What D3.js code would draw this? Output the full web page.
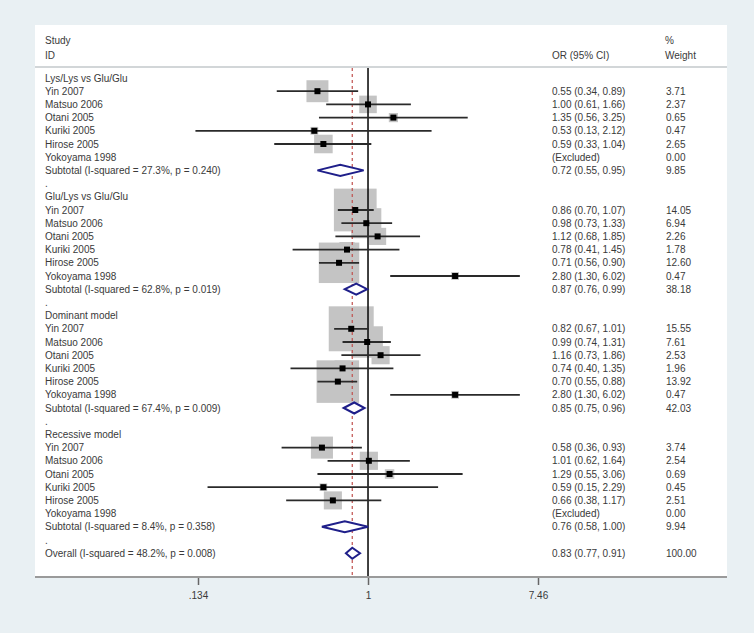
<!DOCTYPE html>
<html><head><meta charset="utf-8">
<script src="https://cdn.jsdelivr.net/npm/d3@7"></script>
<style>body{margin:0;background:#e9f0f3;}svg{display:block;}</style>
</head><body>
<svg id="c" width="754" height="633"></svg>
<script>
const groups = ["Lys/Lys vs Glu/Glu", "Glu/Lys vs Glu/Glu", "Dominant model", "Recessive model"];
const studies = ["Yin 2007", "Matsuo 2006", "Otani 2005", "Kuriki 2005", "Hirose 2005", "Yokoyama 1998"];
const orValues = [
  [0.55, 1.00, 1.35, 0.53, 0.59, null],
  [0.86, 0.98, 1.12, 0.78, 0.71, 2.80],
  [0.82, 0.99, 1.16, 0.74, 0.70, 2.80],
  [0.58, 1.01, 1.29, 0.59, 0.66, null]
];
const lowerCI = [
  [0.34, 0.61, 0.56, 0.13, 0.33, null],
  [0.70, 0.73, 0.68, 0.41, 0.56, 1.30],
  [0.67, 0.74, 0.73, 0.40, 0.55, 1.30],
  [0.36, 0.62, 0.55, 0.15, 0.38, null]
];
const upperCI = [
  [0.89, 1.66, 3.25, 2.12, 1.04, null],
  [1.07, 1.33, 1.85, 1.45, 0.90, 6.02],
  [1.01, 1.31, 1.86, 1.35, 0.88, 6.02],
  [0.93, 1.64, 3.06, 2.29, 1.17, null]
];
const weights = [
  [3.71, 2.37, 0.65, 0.47, 2.65, 0.00],
  [14.05, 6.94, 2.26, 1.78, 12.60, 0.47],
  [15.55, 7.61, 2.53, 1.96, 13.92, 0.47],
  [3.74, 2.54, 0.69, 0.45, 2.51, 0.00]
];
const subtotalLabels = [
  "Subtotal  (I-squared = 27.3%, p = 0.240)",
  "Subtotal  (I-squared = 62.8%, p = 0.019)",
  "Subtotal  (I-squared = 67.4%, p = 0.009)",
  "Subtotal  (I-squared = 8.4%, p = 0.358)"
];
const subOR = [0.72, 0.87, 0.85, 0.76];
const subLo = [0.55, 0.76, 0.75, 0.58];
const subHi = [0.95, 0.99, 0.96, 1.00];
const subW = [9.85, 38.18, 42.03, 9.94];
const overallLabel = "Overall  (I-squared = 48.2%, p = 0.008)";
const overallOR = 0.83, overallLo = 0.77, overallHi = 0.91, overallW = 100.00;
const tickValues = [0.134, 1, 7.46];
const tickLabels = [".134", "1", "7.46"];

const svg = d3.select("#c");
const font = "'Liberation Sans', Arial, sans-serif";
const textCol = "#3a3a3a";

// panel
const panel = {x0: 35, x1: 727, y0: 25, y1: 577};
svg.append("rect").attr("x", 0).attr("y", 0).attr("width", 754).attr("height", 633).attr("fill", "#e9f0f3");
svg.append("rect").attr("x", panel.x0).attr("y", panel.y0).attr("width", panel.x1 - panel.x0)
  .attr("height", panel.y1 - panel.y0).attr("fill", "#ffffff");

const x = d3.scaleLog().domain([0.134, 7.46]).range([198, 538]);
const rowY = d3.scaleLinear().domain([0, 36]).range([78, 553.2]);
const fmt = d3.format(".2f");
const boxK = 11.4;

// build rows
const rows = [];
groups.forEach((g, gi) => {
  const base = gi * 9;
  rows.push({type: "header", i: base, label: g});
  studies.forEach((s, si) => {
    rows.push({type: "study", i: base + 1 + si, label: s, or: orValues[gi][si], lo: lowerCI[gi][si],
      hi: upperCI[gi][si], w: weights[gi][si]});
  });
  rows.push({type: "sub", i: base + 7, label: subtotalLabels[gi], or: subOR[gi], lo: subLo[gi], hi: subHi[gi], w: subW[gi]});
  rows.push({type: "dot", i: base + 8, label: "."});
});
rows.push({type: "sub", i: 36, label: overallLabel, or: overallOR, lo: overallLo, hi: overallHi, w: overallW});

// header
const hdr = svg.append("g").attr("font-family", font).attr("font-size", 10).attr("fill", textCol);
hdr.append("text").attr("x", 45).attr("y", 44).text("Study");
hdr.append("text").attr("x", 45).attr("y", 59).text("ID");
hdr.append("text").attr("x", 552).attr("y", 59).text("OR (95% CI)");
hdr.append("text").attr("x", 665).attr("y", 44).text("%");
hdr.append("text").attr("x", 665).attr("y", 59).text("Weight");
svg.append("line").attr("x1", panel.x0).attr("x2", panel.x1).attr("y1", 67).attr("y2", 67)
  .attr("stroke", "#d2d6d8").attr("stroke-width", 2);

// boxes
const plot = svg.append("g");
const studyRows = rows.filter(r => r.type === "study" && r.or != null);
plot.selectAll("rect.box").data(studyRows).join("rect").attr("class", "box")
  .attr("x", d => x(d.or) - boxK * Math.sqrt(d.w) / 2)
  .attr("y", d => rowY(d.i) - boxK * Math.sqrt(d.w) / 2)
  .attr("width", d => boxK * Math.sqrt(d.w))
  .attr("height", d => boxK * Math.sqrt(d.w))
  .attr("fill", "#c4c4c4");

// null line
plot.append("line").attr("x1", x(1)).attr("x2", x(1)).attr("y1", 68).attr("y2", panel.y1)
  .attr("stroke", "#111").attr("stroke-width", 1.6);
// overall dashed line
plot.append("line").attr("x1", x(overallOR)).attr("x2", x(overallOR)).attr("y1", 68).attr("y2", panel.y1)
  .attr("stroke", "#c0504d").attr("stroke-width", 1.2).attr("stroke-dasharray", "3,3");

// CI lines
plot.selectAll("line.ci").data(studyRows).join("line").attr("class", "ci")
  .attr("x1", d => x(d.lo)).attr("x2", d => x(d.hi))
  .attr("y1", d => rowY(d.i)).attr("y2", d => rowY(d.i))
  .attr("stroke", "#2a2a2a").attr("stroke-width", 1.8);
plot.selectAll("rect.pt").data(studyRows).join("rect").attr("class", "pt")
  .attr("x", d => x(d.or) - 3).attr("y", d => rowY(d.i) - 3).attr("width", 6).attr("height", 6)
  .attr("fill", "#000");

// diamonds
const subRows = rows.filter(r => r.type === "sub");
plot.selectAll("path.dia").data(subRows).join("path").attr("class", "dia")
  .attr("d", d => {
    const y = rowY(d.i), h = 5.5;
    return `M${x(d.lo)},${y} L${x(d.or)},${y - h} L${x(d.hi)},${y} L${x(d.or)},${y + h} Z`;
  })
  .attr("fill", "#ffffff").attr("stroke", "#1f1f8a").attr("stroke-width", 2);

// texts
const tg = svg.append("g").attr("font-family", font).attr("font-size", 10).attr("fill", textCol);
tg.selectAll("text.lab").data(rows).join("text").attr("class", "lab")
  .attr("x", 45).attr("y", d => rowY(d.i) + 3.5).text(d => d.label);
const numRows = rows.filter(r => r.type === "study" || r.type === "sub");
tg.selectAll("text.or").data(numRows).join("text").attr("class", "or")
  .attr("x", 552).attr("y", d => rowY(d.i) + 3.5)
  .text(d => d.or == null ? "(Excluded)" : `${fmt(d.or)} (${fmt(d.lo)}, ${fmt(d.hi)})`);
tg.selectAll("text.w").data(numRows).join("text").attr("class", "w")
  .attr("x", 666).attr("y", d => rowY(d.i) + 3.5).text(d => fmt(d.w));

// axis
const axis = d3.axisBottom(x).tickValues(tickValues).tickFormat((d, i) => tickLabels[i]).tickSize(8).tickPadding(7);
const ag = svg.append("g").attr("transform", `translate(0,${panel.y1})`).call(axis);
ag.select(".domain").remove();
ag.selectAll(".tick line").attr("stroke", "#666").attr("stroke-width", 1.5);
ag.selectAll(".tick text").attr("font-family", font).attr("font-size", 10).attr("fill", textCol);
svg.append("line").attr("x1", panel.x0).attr("x2", panel.x1).attr("y1", panel.y1).attr("y2", panel.y1)
  .attr("stroke", "#9a9a9a").attr("stroke-width", 2);
</script>
</body></html>
